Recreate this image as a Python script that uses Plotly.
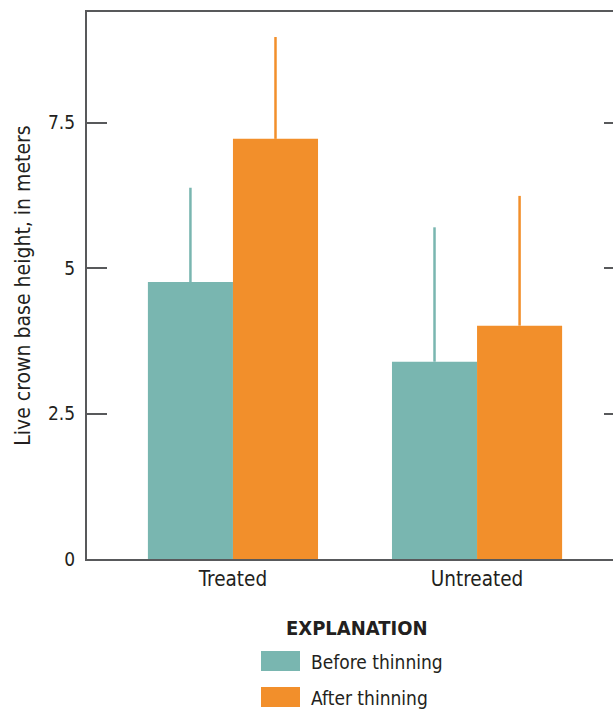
import plotly.graph_objects as go

categories = ["Treated", "Untreated"]
before_vals = [4.76, 3.39]
after_vals = [7.22, 4.01]
before_err = [1.62, 2.31]
after_err = [1.75, 2.23]
series_names = ["Before thinning", "After thinning"]
y_ticks = [0, 2.5, 5, 7.5]
y_ticklabels = ["0", "2.5", "5", "7.5"]

TEAL = "#79B6B0"
ORANGE = "#F28F2B"
TXT = "#231F20"
AX = "#58595B"
FONT = "DejaVu Sans Condensed, Liberation Sans Narrow, Roboto, sans-serif"

fig = go.Figure()
for name, vals, err, col in [(series_names[0], before_vals, before_err, TEAL),
                             (series_names[1], after_vals, after_err, ORANGE)]:
    fig.add_trace(go.Bar(
        x=categories, y=vals, name=name, marker=dict(color=col, line=dict(width=0)),
        error_y=dict(type="data", array=err, arrayminus=[0] * len(err), symmetric=False,
                     color=col, thickness=2.5, width=0),
        showlegend=False,
    ))

# invisible trace for right-side ticks
fig.add_trace(go.Scatter(x=categories, y=[None, None], yaxis="y2", showlegend=False,
                         hoverinfo="skip"))

fig.update_layout(
    width=613, height=710,
    margin=dict(l=87, r=0, t=12, b=151),
    paper_bgcolor="white", plot_bgcolor="white",
    barmode="group", bargap=0.303, bargroupgap=0,
    font=dict(family=FONT, color=TXT, size=18),
    xaxis=dict(range=[-0.598, 1.557], showline=True, linecolor=AX, linewidth=2,
               mirror=True, ticks="", showgrid=False, zeroline=False,
               tickfont=dict(size=20.5, color=TXT)),
    yaxis=dict(range=[0, 9.4], tickvals=y_ticks, ticktext=y_ticklabels,
               ticks="inside", ticklen=20, tickwidth=2, tickcolor=AX,
               showline=True, linecolor=AX, linewidth=2, showgrid=False,
               zeroline=False, ticklabelstandoff=6,
               tickfont=dict(size=19, color=TXT),
               title=dict(text="Live crown base height, in meters",
                          font=dict(size=21, color=TXT), standoff=12)),
    yaxis2=dict(range=[0, 9.4], overlaying="y", side="right", tickvals=y_ticks,
                ticks="inside", ticklen=9, tickwidth=2, tickcolor=AX,
                showticklabels=False, showline=False, showgrid=False, zeroline=False),
)

# Explanation (legend) drawn manually
def px_x(px):
    return (px - 87) / 526

def px_y(py):
    return (559 - py) / 547

fig.add_annotation(x=px_x(357), y=px_y(628), xref="paper", yref="paper",
                   text="<b>EXPLANATION</b>", showarrow=False,
                   font=dict(size=20, color=TXT), xanchor="center", yanchor="middle")
for i, (name, col) in enumerate(zip(series_names, [TEAL, ORANGE])):
    top = 651 + i * 36
    fig.add_shape(type="rect", xref="paper", yref="paper",
                  x0=px_x(261), x1=px_x(300), y0=px_y(top), y1=px_y(top + 20),
                  fillcolor=col, line=dict(width=0))
    fig.add_annotation(x=px_x(309), y=px_y(top + 11), xref="paper", yref="paper",
                       text=name, showarrow=False, xanchor="left", yanchor="middle",
                       font=dict(size=19, color=TXT))

fig.write_html("out.html")
